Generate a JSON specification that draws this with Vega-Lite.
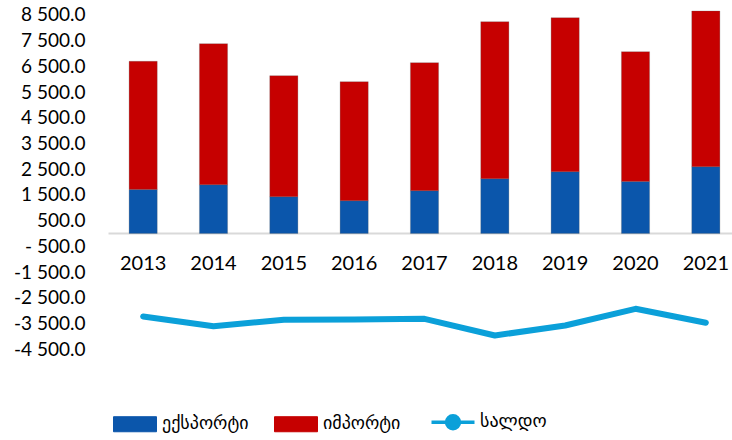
{
  "$schema": "https://vega.github.io/schema/vega-lite/v6.json",
  "autosize": {"type": "none"},
  "width": 633,
  "height": 360,
  "padding": {"left": 108, "top": 2, "right": 0, "bottom": 78},
  "background": "white",
  "config": {
    "view": {"stroke": null},
    "font": "Lato",
    "axis": {"labelFont": "Lato", "labelColor": "#000000", "grid": false, "title": null}
  },
  "datasets": {
    "bars": [
      {"year": "2013", "series": "ექსპორტი", "ord": 1, "value": 1712},
      {"year": "2013", "series": "იმპორტი", "ord": 2, "value": 4981},
      {"year": "2014", "series": "ექსპორტი", "ord": 1, "value": 1895},
      {"year": "2014", "series": "იმპორტი", "ord": 2, "value": 5486},
      {"year": "2015", "series": "ექსპორტი", "ord": 1, "value": 1428},
      {"year": "2015", "series": "იმპორტი", "ord": 2, "value": 4708},
      {"year": "2016", "series": "ექსპორტი", "ord": 1, "value": 1272},
      {"year": "2016", "series": "იმპორტი", "ord": 2, "value": 4631},
      {"year": "2017", "series": "ექსპორტი", "ord": 1, "value": 1661},
      {"year": "2017", "series": "იმპორტი", "ord": 2, "value": 4981},
      {"year": "2018", "series": "ექსპორტი", "ord": 1, "value": 2128},
      {"year": "2018", "series": "იმპორტი", "ord": 2, "value": 6108},
      {"year": "2019", "series": "ექსპორტი", "ord": 1, "value": 2400},
      {"year": "2019", "series": "იმპორტი", "ord": 2, "value": 5992},
      {"year": "2020", "series": "ექსპორტი", "ord": 1, "value": 2023},
      {"year": "2020", "series": "იმპორტი", "ord": 2, "value": 5047},
      {"year": "2021", "series": "ექსპორტი", "ord": 1, "value": 2595},
      {"year": "2021", "series": "იმპორტი", "ord": 2, "value": 6055}
    ],
    "saldo": [
      {"year": "2013", "series": "სალდო", "value": -3230},
      {"year": "2014", "series": "სალდო", "value": -3607},
      {"year": "2015", "series": "სალდო", "value": -3358},
      {"year": "2016", "series": "სალდო", "value": -3346},
      {"year": "2017", "series": "სალდო", "value": -3320},
      {"year": "2018", "series": "სალდო", "value": -3969},
      {"year": "2019", "series": "სალდო", "value": -3580},
      {"year": "2020", "series": "სალდო", "value": -2931},
      {"year": "2021", "series": "სალდო", "value": -3475}
    ]
  },
  "encoding": {
    "x": {
      "field": "year",
      "type": "nominal",
      "sort": null,
      "scale": {"paddingInner": 0.6, "paddingOuter": 0.3},
      "axis": {
        "orient": "bottom",
        "offset": -129,
        "labelAngle": 0,
        "labelFontSize": 20,
        "labelPadding": 20,
        "ticks": false,
        "domainColor": "#d9d9d9",
        "domainWidth": 2
      }
    },
    "y": {
      "field": "value",
      "type": "quantitative",
      "scale": {"domain": [-5000, 9000], "nice": false, "zero": false},
      "axis": {
        "values": [-4500, -3500, -2500, -1500, -500, 500, 1500, 2500, 3500, 4500, 5500, 6500, 7500, 8500],
        "labelExpr": "(datum.value < 0 ? '-' : '') + (datum.value < 0 && abs(datum.value) < 1000 ? ' ' : '') + replace(format(abs(datum.value), ',.1f'), ',', ' ')",
        "labelFontSize": 19,
        "labelPadding": 23,
        "ticks": false,
        "domain": false
      }
    },
    "color": {
      "field": "series",
      "type": "nominal",
      "scale": {
        "domain": ["ექსპორტი", "იმპორტი", "სალდო"],
        "range": ["#0b56ab", "#c60000", "#0ba0d9"]
      },
      "legend": {
        "title": null,
        "orient": "none",
        "direction": "horizontal",
        "legendX": 18,
        "legendY": 411,
        "padding": 0,
        "labelFont": "DejaVu Sans",
        "labelFontSize": 18,
        "labelColor": "#000000",
        "labelOffset": 18,
        "columnPadding": 23,
        "symbolSize": 1849,
        "symbolType": "M-1,-0.35H1V0.35H-1Z",
        "encode": {
          "symbols": {
            "update": {
              "shape": {"signal": "datum.value === 'სალდო' ? 'M-1,0H-0.3M0.3,0H1M-0.3,0A0.3,0.3 0 1,1 0.3,0A0.3,0.3 0 1,1 -0.3,0' : 'M-1,-0.35H1V0.35H-1Z'"},
              "fill": {"signal": "datum.value === 'სალდო' ? '#ffffff' : (datum.value === 'ექსპორტი' ? '#0b56ab' : '#c60000')"},
              "stroke": {"signal": "datum.value === 'სალდო' ? '#0ba0d9' : (datum.value === 'ექსპორტი' ? '#0a3f80' : '#8a0000')"},
              "strokeWidth": {"signal": "datum.value === 'სალდო' ? 3.5 : 1"},
              "opacity": {"value": 1}
            }
          }
        }
      }
    }
  },
  "layer": [
    {
      "data": {"name": "bars"},
      "mark": {"type": "bar", "stroke": "#5a5a5a", "strokeWidth": 0.5, "strokeOpacity": 0.5},
      "encoding": {
        "y": {"field": "value", "type": "quantitative", "stack": "zero"},
        "order": {"field": "ord", "type": "quantitative"}
      }
    },
    {
      "data": {"name": "saldo"},
      "mark": {"type": "line", "strokeWidth": 6, "strokeCap": "round", "strokeJoin": "round"},
      "encoding": {}
    }
  ]
}
